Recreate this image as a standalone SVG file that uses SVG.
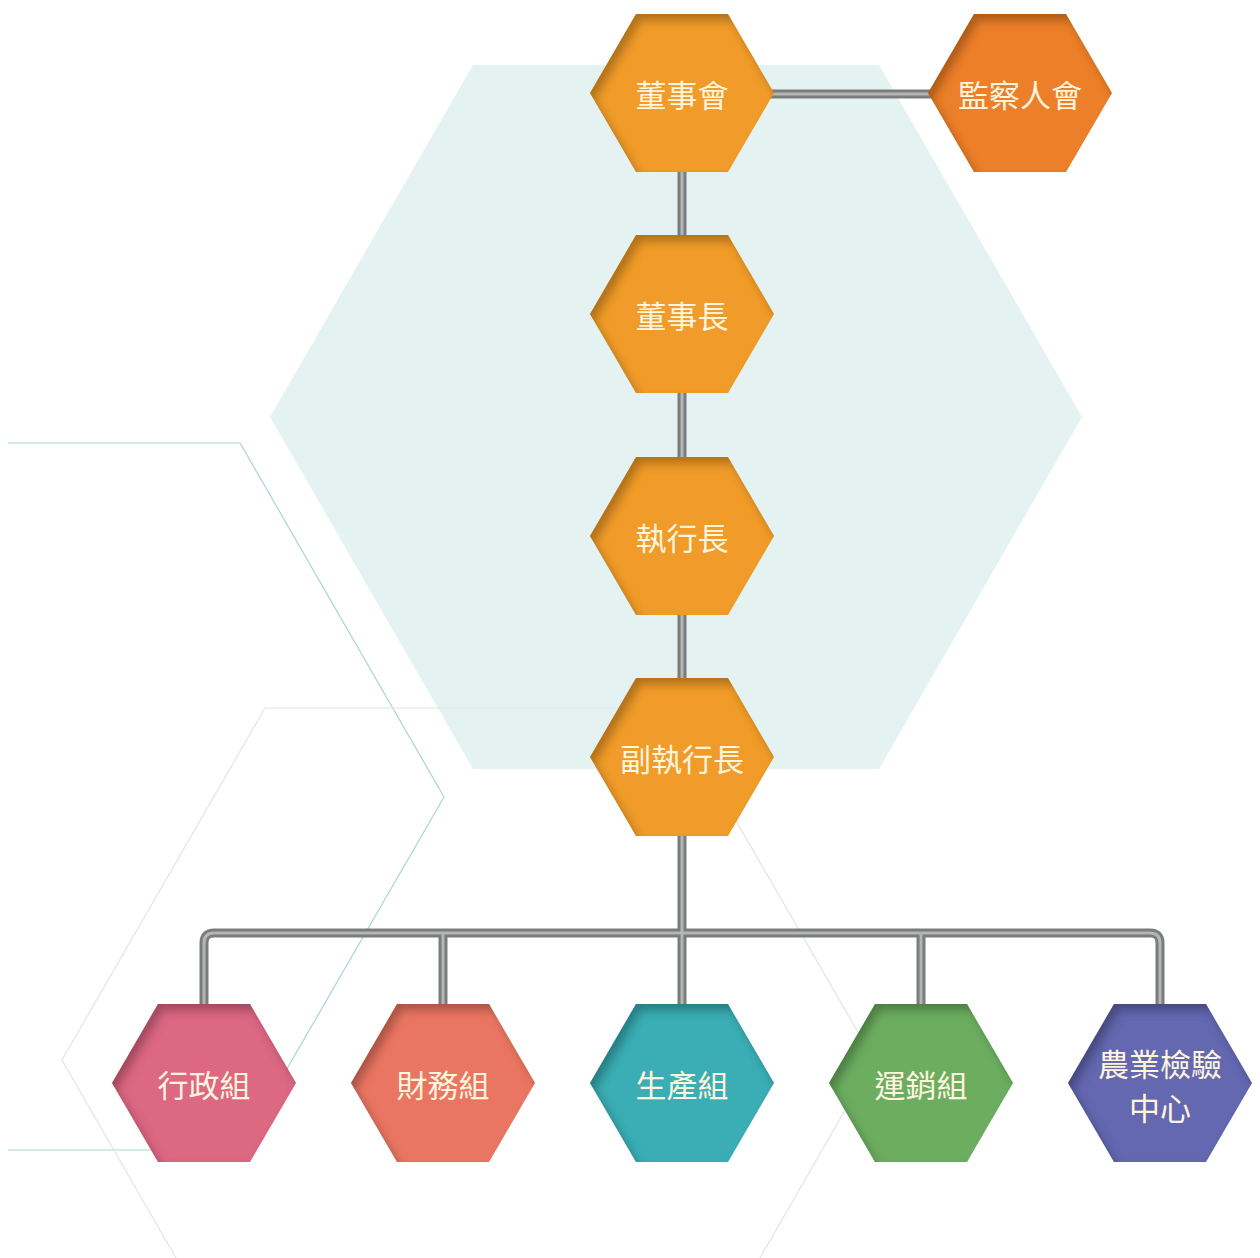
<svg xmlns="http://www.w3.org/2000/svg" width="1260" height="1258" viewBox="0 0 1260 1258">
<defs>
<style>
.lbl{font-family:"Noto Sans CJK TC","Noto Sans CJK SC",sans-serif;font-size:31px;fill:#fff5de;text-anchor:middle;dominant-baseline:central}
.tubeO{fill:none;stroke:#7b7d7c;stroke-width:9;stroke-linejoin:round}
.tubeI{fill:none;stroke:#b4b6b5;stroke-width:3;stroke-linejoin:round}
.bgline{fill:none;stroke-width:1.2}
</style>
<polygon id="hex" points="-92,0 -46,-79 46,-79 92,0 46,79 -46,79"/>
<filter id="inset" x="-10%" y="-10%" width="120%" height="120%">
<feGaussianBlur in="SourceAlpha" stdDeviation="5"/>
<feOffset dx="5" dy="7" result="b"/>
<feComposite in="SourceAlpha" in2="b" operator="out" result="mask"/>
<feFlood flood-color="#000" flood-opacity="0.5"/>
<feComposite in2="mask" operator="in" result="shadow"/>
<feMerge><feMergeNode in="SourceGraphic"/><feMergeNode in="shadow"/></feMerge>
</filter>
</defs>
<rect width="1260" height="1258" fill="#ffffff"/>
<g id="background">
<polygon points="270,417 473,65 879,65 1082,417 879,769 473,769" fill="#e4f3f1"/>
<path class="bgline" stroke="#a9d6d3" d="M8,443 L240,443 L444,797 L240,1150 L8,1150"/>
<path class="bgline" stroke="#e0e6e6" d="M176,1258 L62,1060 L265,708 L671,708 L874,1060 L760,1258"/>
</g>
<g id="connectors">
<path class="tubeO" d="M682,93 V757 M682,94 H1020 M682,836 V933 M204,1004 V943 Q204,933 214,933 H1150 Q1160,933 1160,943 V1004 M443,933 V1004 M682,933 V1004 M921,933 V1004"/>
<path class="tubeI" d="M682,93 V757 M682,94 H1020 M682,836 V933 M204,1004 V943 Q204,933 214,933 H1150 Q1160,933 1160,943 V1004 M443,933 V1004 M682,933 V1004 M921,933 V1004"/>
</g>
<g id="n1"><use href="#hex" x="682" y="93" fill="#f09b2b" filter="url(#inset)"/><text class="lbl" x="682" y="93">董事會</text></g>
<g id="n2"><use href="#hex" x="1020" y="93" fill="#ec7f2c" filter="url(#inset)"/><text class="lbl" x="1020" y="93">監察人會</text></g>
<g id="n3"><use href="#hex" x="682" y="314" fill="#f09b2b" filter="url(#inset)"/><text class="lbl" x="682" y="314">董事長</text></g>
<g id="n4"><use href="#hex" x="682" y="536" fill="#f09b2b" filter="url(#inset)"/><text class="lbl" x="682" y="536">執行長</text></g>
<g id="n5"><use href="#hex" x="682" y="757" fill="#f09b2b" filter="url(#inset)"/><text class="lbl" x="682" y="757">副執行長</text></g>
<g id="n6"><use href="#hex" x="204" y="1083" fill="#dc6782" filter="url(#inset)"/><text class="lbl" x="204" y="1083">行政組</text></g>
<g id="n7"><use href="#hex" x="443" y="1083" fill="#e97662" filter="url(#inset)"/><text class="lbl" x="443" y="1083">財務組</text></g>
<g id="n8"><use href="#hex" x="682" y="1083" fill="#3badb4" filter="url(#inset)"/><text class="lbl" x="682" y="1083">生產組</text></g>
<g id="n9"><use href="#hex" x="921" y="1083" fill="#6cad61" filter="url(#inset)"/><text class="lbl" x="921" y="1083">運銷組</text></g>
<g id="n10"><use href="#hex" x="1160" y="1083" fill="#6468b0" filter="url(#inset)"/><text class="lbl" x="1160" y="1062">農業檢驗</text><text class="lbl" x="1160" y="1106">中心</text></g>
</svg>
